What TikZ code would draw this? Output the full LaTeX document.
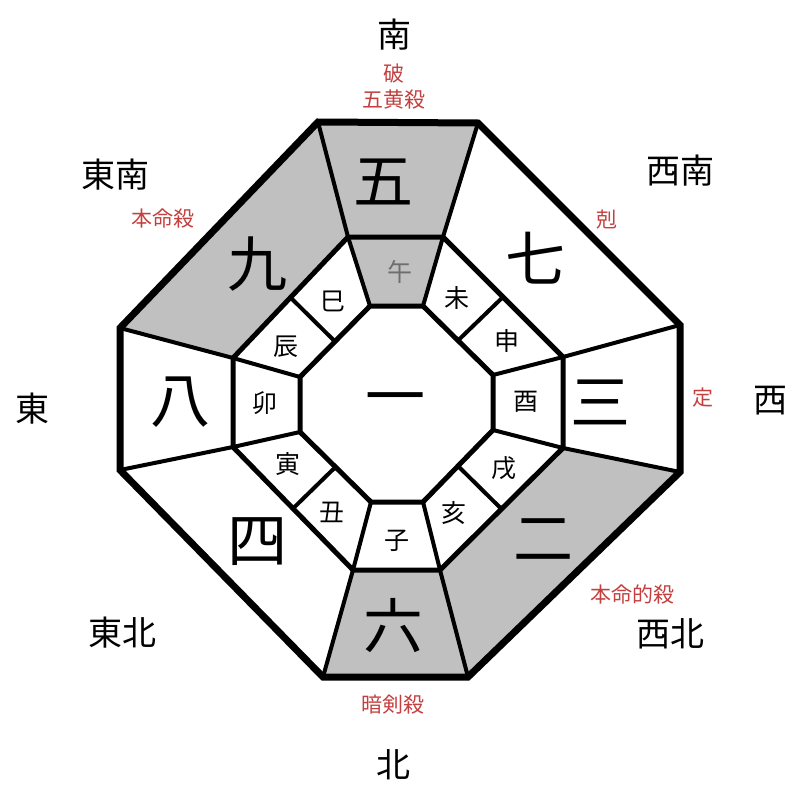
\documentclass[tikz,border=0pt]{standalone}
\usepackage{fontspec}
\usetikzlibrary{calc}
\setmainfont{Noto Sans CJK JP}
\definecolor{cellgray}{RGB}{192,192,192}
\definecolor{labred}{RGB}{196,64,64}
\definecolor{dimtext}{RGB}{110,110,110}
\begin{document}
\begin{tikzpicture}[x=1pt,y=-1pt,
  outer/.style={line width=7pt,line join=miter},
  ring/.style={line width=5pt,line join=miter},
  sep/.style={line width=4pt},
  big/.style={font=\fontsize{60}{60}\selectfont},
  branch/.style={font=\fontsize{25}{25}\selectfont},
  dir/.style={font=\fontsize{34}{34}\selectfont},
  note/.style={font=\fontsize{21}{21}\selectfont,text=labred}]
\useasboundingbox (0,0) rectangle (800,800);
% outer octagon
\coordinate (O1) at (318,122); \coordinate (O2) at (478,123);
\coordinate (O3) at (680,325); \coordinate (O4) at (680,472);
\coordinate (O5) at (468,677); \coordinate (O6) at (323,677);
\coordinate (O7) at (120,470); \coordinate (O8) at (120,328);
% middle octagon
\coordinate (M1) at (348,237); \coordinate (M2) at (443,237);
\coordinate (M3) at (563,357); \coordinate (M4) at (563,448);
\coordinate (M5) at (440,570); \coordinate (M6) at (353,570);
\coordinate (M7) at (233,447); \coordinate (M8) at (233,358);
% inner octagon
\coordinate (I1) at (370,306); \coordinate (I2) at (423,306);
\coordinate (I3) at (493,375); \coordinate (I4) at (493,430);
\coordinate (I5) at (423,502); \coordinate (I6) at (371,502);
\coordinate (I7) at (300,432); \coordinate (I8) at (300,377);
% gray fills
\fill[cellgray] (O1) -- (O2) -- (M2) -- (M1) -- cycle;
\fill[cellgray] (M1) -- (M2) -- (I2) -- (I1) -- cycle;
\fill[cellgray] (O8) -- (O1) -- (M1) -- (M8) -- cycle;
\fill[cellgray] (O4) -- (O5) -- (M5) -- (M4) -- cycle;
\fill[cellgray] (O5) -- (O6) -- (M6) -- (M5) -- cycle;
% radial lines
\foreach \i in {1,...,8} {
  \draw[sep] (O\i) -- (M\i);
  \draw[sep] (M\i) -- (I\i);
}
% dividers in diagonal ring cells
\draw[sep] ($(M1)!0.5!(M8)$) -- ($(I1)!0.5!(I8)$);
\draw[sep] ($(M2)!0.5!(M3)$) -- ($(I2)!0.5!(I3)$);
\draw[sep] ($(M4)!0.5!(M5)$) -- ($(I4)!0.5!(I5)$);
\draw[sep] ($(M6)!0.5!(M7)$) -- ($(I6)!0.5!(I7)$);
% octagons
\draw[ring] (M1) -- (M2) -- (M3) -- (M4) -- (M5) -- (M6) -- (M7) -- (M8) -- cycle;
\draw[ring] (I1) -- (I2) -- (I3) -- (I4) -- (I5) -- (I6) -- (I7) -- (I8) -- cycle;
\draw[outer] (O1) -- (O2) -- (O3) -- (O4) -- (O5) -- (O6) -- (O7) -- (O8) -- cycle;
% big numbers
\node[big] (n5) at (383,182) {五};
\node[big] (n7) at (535,258) {七};
\node[big] (n3) at (600,402) {三};
\node[big] (n2) at (543,540) {二};
\node[big] (n6) at (393,626) {六};
\node[big] (n4) at (257,542) {四};
\node[big] (n8) at (180,402) {八};
\node[big] (n9) at (257,264) {九};
\node[big] (n1) at (395,406) {一};
% branches
\node[branch,text=dimtext] (bwu) at (400,272) {午};
\node[branch] (bsi) at (333,301) {巳};
\node[branch] (bchen) at (286,347) {辰};
\node[branch] (bmao) at (265,403) {卯};
\node[branch] (byin) at (288,464) {寅};
\node[branch] (bchou) at (332,512) {丑};
\node[branch] (bzi) at (397,541) {子};
\node[branch] (bhai) at (454,513) {亥};
\node[branch] (bxu) at (504,468) {戌};
\node[branch] (byou) at (526,402) {酉};
\node[branch] (bshen) at (507,341) {申};
\node[branch] (bwei) at (457,298) {未};
% directions
\node[dir] (dS) at (394,35) {南};
\node[dir] (dSE) at (115,175) {東南};
\node[dir] (dSW) at (680,171) {西南};
\node[dir] (dE) at (32,409) {東};
\node[dir] (dW) at (770,401) {西};
\node[dir] (dNE) at (122,633) {東北};
\node[dir] (dNW) at (670,634) {西北};
\node[dir] (dN) at (393,765) {北};
% notes
\node[note] (t1) at (394,74) {破};
\node[note] (t2) at (394,100) {五黄殺};
\node[note] (t3) at (163,219) {本命殺};
\node[note] (t4) at (607,220) {剋};
\node[note] (t5) at (703,398) {定};
\node[note] (t6) at (632,594) {本命的殺};
\node[note] (t7) at (393,705) {暗剣殺};
\end{tikzpicture}
\end{document}
